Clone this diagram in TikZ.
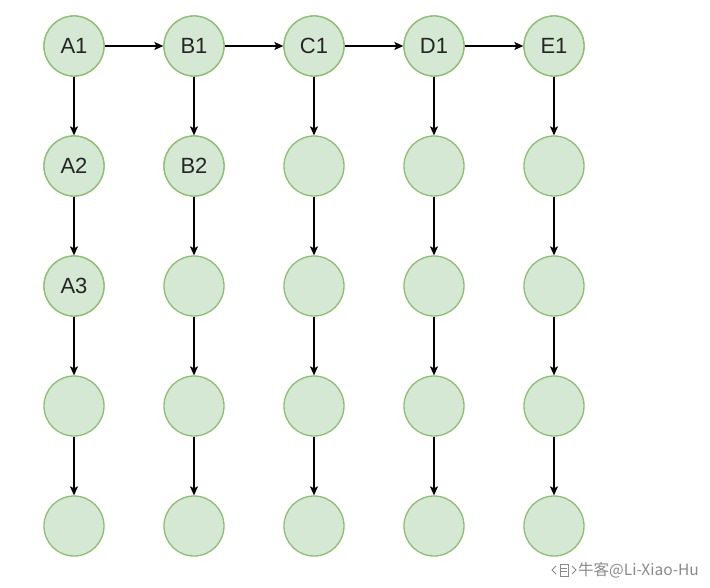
\documentclass[tikz,border=0pt]{standalone}
\usepackage{fontspec}
\setmainfont{Liberation Sans}
\newfontfamily\cjkfont{Noto Sans CJK SC}
\usetikzlibrary{arrows.meta}
\definecolor{nodefill}{HTML}{D5E8D4}
\definecolor{nodeline}{HTML}{8DBF71}
\definecolor{wmgray}{HTML}{8A8A8A}
\begin{document}
\begin{tikzpicture}[x=1pt,y=-1pt,
  cnode/.style={circle,draw=nodeline,fill=nodefill,line width=1.3pt,minimum size=60pt,inner sep=0pt,font=\fontsize{22pt}{26pt}\selectfont,text=black!85},
  conn/.style={line width=1.2pt,-{Stealth[length=9pt,width=8pt,inset=2pt]}}]
\useasboundingbox (0,0) rectangle (710,588);
\fill[white] (0,0) rectangle (710,588);
% nodes
\foreach \c/\x in {1/74,2/194,3/314,4/434,5/554}{
  \foreach \r/\y in {1/46,2/166,3/286,4/406,5/526}{
    \node[cnode] (n\c\r) at (\x,\y) {};
  }
}
\node[cnode] at (n11) {A1};
\node[cnode] at (n21) {B1};
\node[cnode] at (n31) {C1};
\node[cnode] at (n41) {D1};
\node[cnode] at (n51) {E1};
\node[cnode] at (n12) {A2};
\node[cnode] at (n22) {B2};
\node[cnode] at (n13) {A3};
% horizontal connectors
\draw[conn] (n11) -- (n21);
\draw[conn] (n21) -- (n31);
\draw[conn] (n31) -- (n41);
\draw[conn] (n41) -- (n51);
% vertical connectors
\foreach \c in {1,...,5}{
  \draw[conn] (n\c1) -- (n\c2);
  \draw[conn] (n\c2) -- (n\c3);
  \draw[conn] (n\c3) -- (n\c4);
  \draw[conn] (n\c4) -- (n\c5);
}
% watermark
\node[anchor=west,inner sep=0pt,text=wmgray,font=\cjkfont\fontsize{15.5pt}{18pt}\selectfont] (wm) at (578,570) {牛客@Li-Xiao-Hu};
\begin{scope}[wmgray,line width=0.8pt]
  \draw (556,566) -- (552,570) -- (556,574);
  \draw (560,564) rectangle (568,576);
  \draw (561,568) -- (567,568) (561,571) -- (567,571);
  \draw (572,566) -- (576,570) -- (572,574);
\end{scope}
\end{tikzpicture}
\end{document}
